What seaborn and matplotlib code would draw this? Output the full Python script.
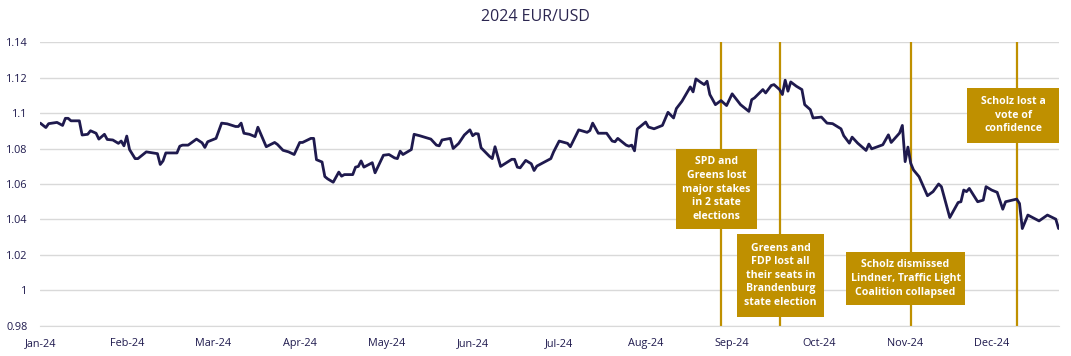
"""
2024 EUR/USD with German political events marked.
Output: out.png
"""
import pandas as pd
import matplotlib.pyplot as plt
from matplotlib.patches import Rectangle
import seaborn as sns

FIG_PATH = "out.png"

# EUR/USD path (turning points)
dates = [
    "2024-01-01", "2024-01-03", "2024-01-04", "2024-01-07", "2024-01-09", "2024-01-10",
    "2024-01-11", "2024-01-12", "2024-01-15", "2024-01-16", "2024-01-18", "2024-01-19",
    "2024-01-21", "2024-01-22", "2024-01-24", "2024-01-25", "2024-01-27", "2024-01-29",
    "2024-01-30", "2024-01-31", "2024-02-01", "2024-02-02", "2024-02-04", "2024-02-05",
    "2024-02-07", "2024-02-08", "2024-02-12", "2024-02-13", "2024-02-14", "2024-02-15",
    "2024-02-19", "2024-02-20", "2024-02-21", "2024-02-23", "2024-02-26", "2024-02-28",
    "2024-02-29", "2024-03-01", "2024-03-04", "2024-03-06", "2024-03-08", "2024-03-11",
    "2024-03-12", "2024-03-13", "2024-03-14", "2024-03-16", "2024-03-18", "2024-03-19",
    "2024-03-22", "2024-03-25", "2024-03-26", "2024-03-28", "2024-03-30", "2024-04-01",
    "2024-04-03", "2024-04-04", "2024-04-07", "2024-04-08", "2024-04-09", "2024-04-11",
    "2024-04-12", "2024-04-13", "2024-04-15", "2024-04-17", "2024-04-18", "2024-04-19",
    "2024-04-22", "2024-04-23", "2024-04-24", "2024-04-25", "2024-04-26", "2024-04-29",
    "2024-04-30", "2024-05-03", "2024-05-05", "2024-05-07", "2024-05-08", "2024-05-09",
    "2024-05-10", "2024-05-13", "2024-05-14", "2024-05-16", "2024-05-20", "2024-05-22",
    "2024-05-23", "2024-05-24", "2024-05-27", "2024-05-28", "2024-05-30", "2024-06-01",
    "2024-06-03", "2024-06-04", "2024-06-05", "2024-06-06", "2024-06-07", "2024-06-10",
    "2024-06-11", "2024-06-12", "2024-06-14", "2024-06-18", "2024-06-19", "2024-06-20",
    "2024-06-21", "2024-06-23", "2024-06-25", "2024-06-26", "2024-06-27", "2024-07-02",
    "2024-07-03", "2024-07-05", "2024-07-08", "2024-07-09", "2024-07-12", "2024-07-15",
    "2024-07-16", "2024-07-17", "2024-07-19", "2024-07-22", "2024-07-24", "2024-07-25",
    "2024-07-26", "2024-07-29", "2024-07-30", "2024-07-31", "2024-08-01", "2024-08-02",
    "2024-08-05", "2024-08-06", "2024-08-08", "2024-08-11", "2024-08-13", "2024-08-15",
    "2024-08-16", "2024-08-18", "2024-08-21", "2024-08-22", "2024-08-23", "2024-08-25",
    "2024-08-26", "2024-08-27", "2024-08-28", "2024-08-30", "2024-09-01", "2024-09-03",
    "2024-09-05", "2024-09-08", "2024-09-11", "2024-09-12", "2024-09-13", "2024-09-16",
    "2024-09-17", "2024-09-19", "2024-09-20", "2024-09-22", "2024-09-23", "2024-09-24",
    "2024-09-25", "2024-09-26", "2024-09-28", "2024-09-30", "2024-10-01", "2024-10-03",
    "2024-10-04", "2024-10-07", "2024-10-09", "2024-10-11", "2024-10-14", "2024-10-15",
    "2024-10-17", "2024-10-18", "2024-10-20", "2024-10-23", "2024-10-24", "2024-10-25",
    "2024-10-29", "2024-10-31", "2024-11-01", "2024-11-04", "2024-11-05", "2024-11-06",
    "2024-11-07", "2024-11-08", "2024-11-09", "2024-11-11", "2024-11-14", "2024-11-16",
    "2024-11-18", "2024-11-19", "2024-11-22", "2024-11-25", "2024-11-26", "2024-11-27",
    "2024-11-28", "2024-11-29", "2024-12-02", "2024-12-04", "2024-12-05", "2024-12-07",
    "2024-12-09", "2024-12-11", "2024-12-12", "2024-12-16", "2024-12-17", "2024-12-18",
    "2024-12-20", "2024-12-24", "2024-12-27", "2024-12-30", "2024-12-31",
]
eurusd = [
    1.0943, 1.0918, 1.0940, 1.0947, 1.0930, 1.0970,
    1.0970, 1.0956, 1.0956, 1.0876, 1.0880, 1.0900,
    1.0886, 1.0853, 1.0880, 1.0851, 1.0848, 1.0829,
    1.0842, 1.0815, 1.0870, 1.0794, 1.0743, 1.0743,
    1.0768, 1.0781, 1.0771, 1.0710, 1.0730, 1.0775,
    1.0775, 1.0813, 1.0819, 1.0819, 1.0853, 1.0832,
    1.0806, 1.0838, 1.0857, 1.0943, 1.0939, 1.0924,
    1.0924, 1.0943, 1.0886, 1.0880, 1.0867, 1.0920,
    1.0810, 1.0834, 1.0823, 1.0790, 1.0781, 1.0766,
    1.0834, 1.0834, 1.0857, 1.0857, 1.0737, 1.0724,
    1.0642, 1.0629, 1.0610, 1.0667, 1.0644, 1.0653,
    1.0653, 1.0695, 1.0699, 1.0730, 1.0695, 1.0720,
    1.0663, 1.0762, 1.0766, 1.0747, 1.0743, 1.0785,
    1.0766, 1.0794, 1.0880, 1.0872, 1.0853, 1.0819,
    1.0815, 1.0848, 1.0857, 1.0800, 1.0829, 1.0876,
    1.0905, 1.0872, 1.0884, 1.0882, 1.0804, 1.0756,
    1.0743, 1.0810, 1.0699, 1.0739, 1.0739, 1.0695,
    1.0691, 1.0733, 1.0714, 1.0676, 1.0701, 1.0743,
    1.0781, 1.0842, 1.0829, 1.0810, 1.0905, 1.0891,
    1.0901, 1.0943, 1.0886, 1.0886, 1.0842, 1.0838,
    1.0857, 1.0819, 1.0813, 1.0819, 1.0787, 1.0910,
    1.0949, 1.0921, 1.0911, 1.0930, 1.1004, 1.0972,
    1.1025, 1.1066, 1.1147, 1.1119, 1.1192, 1.1170,
    1.1160, 1.1179, 1.1104, 1.1047, 1.1070, 1.1042,
    1.1108, 1.1047, 1.1009, 1.1075, 1.1085, 1.1132,
    1.1113, 1.1155, 1.1160, 1.1132, 1.1104, 1.1185,
    1.1123, 1.1175, 1.1151, 1.1132, 1.1047, 1.1019,
    1.0972, 1.0977, 1.0943, 1.0940, 1.0911, 1.0872,
    1.0830, 1.0864, 1.0830, 1.0789, 1.0825, 1.0798,
    1.0821, 1.0877, 1.0834, 1.0887, 1.0930, 1.0726,
    1.0808, 1.0717, 1.0679, 1.0641, 1.0534, 1.0557,
    1.0600, 1.0585, 1.0411, 1.0496, 1.0500, 1.0566,
    1.0557, 1.0575, 1.0500, 1.0509, 1.0585, 1.0566,
    1.0553, 1.0458, 1.0500, 1.0515, 1.0490, 1.0349,
    1.0425, 1.0392, 1.0425, 1.0402, 1.0349,
]

# axis ticks (Excel puts the month labels roughly every 31 days)
tick_dates = ["2024-01-01", "2024-02-01", "2024-03-03", "2024-04-03", "2024-05-04",
              "2024-06-04", "2024-07-05", "2024-08-05", "2024-09-05", "2024-10-06",
              "2024-11-06", "2024-12-07"]
tick_labels = ["Jan-24", "Feb-24", "Mar-24", "Apr-24", "May-24", "Jun-24",
               "Jul-24", "Aug-24", "Sep-24", "Oct-24", "Nov-24", "Dec-24"]
y_ticks = [0.98, 1.00, 1.02, 1.04, 1.06, 1.08, 1.10, 1.12, 1.14]
y_labels = ["0.98", "1", "1.02", "1.04", "1.06", "1.08", "1.1", "1.12", "1.14"]

# events
event_dates = ["2024-09-01", "2024-09-22", "2024-11-08", "2024-12-16"]
event_texts = [
    "SPD and\nGreens lost\nmajor stakes\nin 2 state\nelections",
    "Greens and\nFDP lost all\ntheir seats in\nBrandenburg\nstate election",
    "Scholz dismissed\nLindner, Traffic Light\nCoalition collapsed",
    "Scholz lost a\nvote of\nconfidence",
]
# box extents in axes fraction: (x0, y0, x1, y1)
event_boxes = [
    (0.6245, 0.3415, 0.7037, 0.6232),
    (0.6844, 0.0327, 0.7696, 0.3240),
    (0.7915, 0.0750, 0.9080, 0.2595),
    (0.9103, 0.6454, 1.0004, 0.8380),
]

NAVY = "#1f1a4e"
GOLD = "#bf9000"
GRID = "#d9d9d9"


def main():
    sns.set_style("white")
    plt.rcParams["font.family"] = ["Open Sans", "DejaVu Sans"]

    df = pd.DataFrame({"date": pd.to_datetime(dates), "eurusd": eurusd})

    fig = plt.figure(figsize=(10.71, 3.56), dpi=100)
    ax = fig.add_axes([0.0376, 0.0843, 0.9508, 0.7977])

    for y in y_ticks:
        ax.axhline(y, color=GRID, lw=1.0, zorder=0)

    sns.lineplot(data=df, x="date", y="eurusd", ax=ax, color=NAVY, lw=2.0, zorder=3)

    for d in event_dates:
        ax.axvline(pd.Timestamp(d), color=GOLD, lw=1.6, zorder=2)

    for (x0, y0, x1, y1), txt in zip(event_boxes, event_texts):
        ax.add_patch(Rectangle((x0, y0), x1 - x0, y1 - y0, transform=ax.transAxes,
                               facecolor=GOLD, edgecolor="none", zorder=4, clip_on=False))
        ax.text((x0 + x1) / 2, (y0 + y1) / 2, txt, transform=ax.transAxes,
                ha="center", va="center", color="white", fontsize=7.6,
                fontweight="bold", linespacing=1.32, zorder=5,
                family=["Liberation Sans Narrow", "Open Sans", "DejaVu Sans"])

    ax.set_xlim(pd.Timestamp("2024-01-01"), pd.Timestamp("2024-12-31"))
    ax.set_ylim(0.98, 1.14)
    ax.set_xticks(pd.to_datetime(tick_dates))
    ax.set_xticklabels(tick_labels)
    ax.set_yticks(y_ticks)
    ax.set_yticklabels(y_labels)
    ax.tick_params(axis="x", colors=GRID, labelcolor=NAVY, labelsize=7.8,
                   length=4, width=1, direction="out", pad=5)
    ax.tick_params(axis="y", labelcolor=NAVY, labelsize=7.8, length=0, pad=9)
    ax.set_xlabel("")
    ax.set_ylabel("")
    for side in ["top", "right", "left"]:
        ax.spines[side].set_visible(False)
    ax.spines["bottom"].set_color(GRID)

    fig.suptitle("2024 EUR/USD", x=0.5, y=0.975, fontsize=11.5, color="#2b2650")
    fig.savefig(FIG_PATH, dpi=100)
    plt.close()
    print(f"Saved {FIG_PATH}")


if __name__ == "__main__":
    main()
